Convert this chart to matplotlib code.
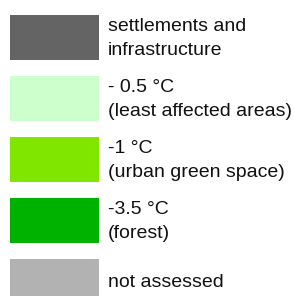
import matplotlib.pyplot as plt
from matplotlib.patches import Rectangle

# legend entries (top to bottom)
labels = [
    "settlements and\ninfrastructure",
    "- 0.5 °C\n(least affected areas)",
    "-1 °C\n(urban green space)",
    "-3.5 °C\n(forest)",
    "not assessed",
]
colors = ["#646464", "#ccffcc", "#80e600", "#00b200", "#b2b2b2"]

W, H = 294, 296
BOX_X, BOX_W, BOX_H = 10, 89, 45
TOP, STEP = 15, 61
TEXT_X = 108

fig = plt.figure(figsize=(W / 100, H / 100), dpi=100)
ax = fig.add_axes([0, 0, 1, 1])
ax.set_xlim(0, W)
ax.set_ylim(H, 0)
ax.axis("off")

for i, (lbl, c) in enumerate(zip(labels, colors)):
    y = TOP + i * STEP
    ax.add_patch(Rectangle((BOX_X, y), BOX_W, BOX_H, facecolor=c, edgecolor="none"))
    ax.text(TEXT_X, y + BOX_H / 2 + 1, lbl, ha="left", va="center",
            fontsize=14, family="Liberation Sans", color="#111111", linespacing=1.55)

fig.savefig("out.png", dpi=100)
